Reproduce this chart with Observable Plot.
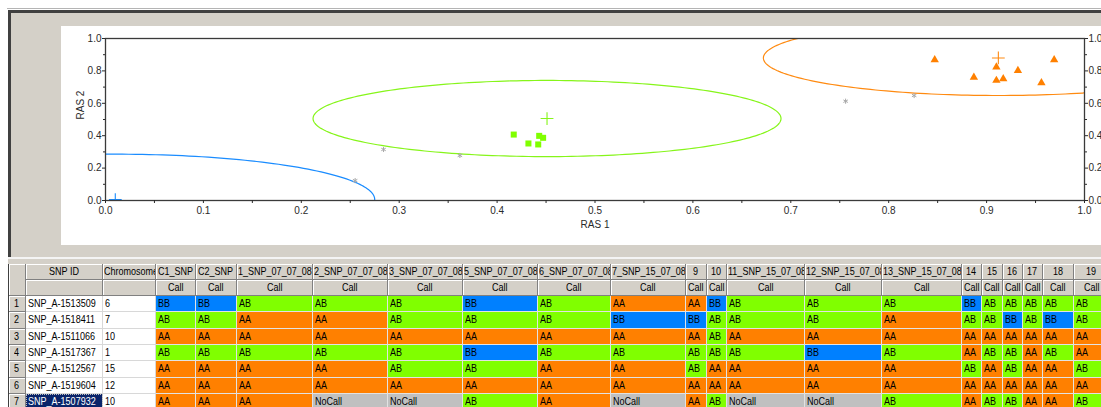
<!DOCTYPE html>
<html><head><meta charset="utf-8">
<script src="https://cdn.jsdelivr.net/npm/d3@7"></script>
<script src="https://cdn.jsdelivr.net/npm/@observablehq/plot@0.6"></script>
<style>
html,body{margin:0;padding:0;width:1101px;height:407px;overflow:hidden;background:#fff;
  font-family:"Liberation Sans",Arial,sans-serif;}
.abs{position:absolute;}
#grid{position:absolute;left:8px;top:264px;display:grid;border-left:1px solid #404040;}
.c{box-sizing:border-box;overflow:hidden;white-space:nowrap;font-size:11px;line-height:14px;padding:0 2px;
  border-right:1px solid #e2e2e2;border-bottom:1px solid #e2e2e2;color:#000;background:#fff;}
.h{background:#d4d0c8;text-align:center;border-right:1px solid #808080;border-bottom:1px solid #808080;
  box-shadow:inset 1px 1px 0 #fff;padding:0 1px;line-height:15px;}
.sel{background:#0a246a;color:#fff;outline:1px dotted #c0c0c0;outline-offset:-1px;}
.t{display:inline-block;transform:scaleX(0.82);transform-origin:left center;}
</style></head>
<body>
<div class="abs" style="left:7px;top:8px;width:1100px;height:1px;background:#b4b4b4"></div>
<div class="abs" style="left:8px;top:10px;width:1100px;height:247px;background:#d4d0c8;border-top:3px solid #404040;border-left:3px solid #404040;box-sizing:border-box"></div>
<div class="abs" style="left:8px;top:257px;width:1100px;height:2px;background:#f4f4f4"></div>
<div class="abs" style="left:8px;top:259px;width:1100px;height:5px;background:#d4d0c8"></div>
<div id="plotbox" class="abs" style="left:61px;top:26px;width:1060px;height:219px;background:#fff"></div>
<div id="grid"></div>
<script>
// ---------- scatter data ----------
const clusters = ["BB", "AB", "AA"];
const clusterColors = ["#1a8cff", "#86f51a", "#ff8a10"];
const centerX = [0.010, 0.451, 0.912];
const centerY = [0.006, 0.506, 0.880];
const radiusX = [0.265, 0.239, 0.240];
const radiusY = [0.280, 0.235, 0.232];
const abX = [0.417, 0.432, 0.443, 0.447, 0.442];
const abY = [0.407, 0.352, 0.399, 0.387, 0.346];
const aaX = [0.847, 0.887, 0.910, 0.910, 0.917, 0.932, 0.956, 0.969];
const aaY = [0.868, 0.761, 0.823, 0.741, 0.751, 0.802, 0.727, 0.868];
const noCallX = [0.255, 0.284, 0.362, 0.756, 0.826];
const noCallY = [0.123, 0.315, 0.278, 0.613, 0.648];
const majorTicks = [0, 0.1, 0.2, 0.3, 0.4, 0.5, 0.6, 0.7, 0.8, 0.9, 1.0];
const yLabelTicks = [0, 0.2, 0.4, 0.6, 0.8, 1.0];
const minorXTicks = [0.05, 0.15, 0.25, 0.35, 0.45, 0.55, 0.65, 0.75, 0.85, 0.95];
const minorYTicks = [0.1, 0.3, 0.5, 0.7, 0.9];

// ---------- table data ----------
const snpIds = ["SNP_A-1513509","SNP_A-1518411","SNP_A-1511066","SNP_A-1517367","SNP_A-1512567","SNP_A-1519604","SNP_A-1507932"];
const chromosomes = ["6","7","10","1","15","12","10"];
const sampleNames = ["C1_SNP","C2_SNP","1_SNP_07_07_08","2_SNP_07_07_08","3_SNP_07_07_08","5_SNP_07_07_08","6_SNP_07_07_08","7_SNP_15_07_08","9","10","11_SNP_15_07_08","12_SNP_15_07_08","13_SNP_15_07_08","14","15","16","17","18","19"];
const callsRow1 = ["BB","BB","AB","AB","AB","BB","AB","AA","AA","BB","AB","AB","AB","BB","AB","AB","AB","AB","AB"];
const callsRow2 = ["AB","AB","AA","AA","AB","AB","AB","BB","BB","AB","AB","AB","AA","AB","AB","BB","AB","BB","AB"];
const callsRow3 = ["AA","AA","AA","AA","AA","AA","AA","AA","AA","AB","AA","AA","AA","AA","AA","AA","AA","AA","AA"];
const callsRow4 = ["AB","AB","AB","AB","AB","BB","AB","AB","AB","AB","AB","BB","AB","AA","AB","AB","AA","AB","AA"];
const callsRow5 = ["AA","AA","AA","AA","AB","AB","AA","AA","AB","AA","AA","AA","AA","AB","AA","AB","AA","AA","AB"];
const callsRow6 = ["AA","AA","AA","AA","AA","AA","AA","AA","AA","AA","AA","AA","AA","AA","AA","AA","AA","AA","AA"];
const callsRow7 = ["AA","AA","AA","NoCall","NoCall","AB","AA","NoCall","AA","AB","NoCall","NoCall","AB","AA","AB","AB","AA","AA","AB"];
const calls = [callsRow1, callsRow2, callsRow3, callsRow4, callsRow5, callsRow6, callsRow7];
const callDomain = ["AA","AB","BB","NoCall"];
const callRange = ["#ff8000","#80ff00","#0080ff","#c0c0c0"];

// ---------- plot ----------
const font = '"Liberation Sans",Arial,sans-serif';
const fmt = d3.format(".1f");
const ellipseMarks = clusters.map((g, i) => {
  const pts = d3.range(0, 241).map(k => {
    const t = 2 * Math.PI * k / 240;
    return {x: centerX[i] + radiusX[i] * Math.cos(t), y: centerY[i] + radiusY[i] * Math.sin(t)};
  });
  return Plot.line(pts, {x: "x", y: "y", stroke: clusterColors[i], strokeWidth: 1.2, clip: true});
});
const centerMarks = clusters.map((g, i) =>
  Plot.dot([0], {x: () => centerX[i], y: () => centerY[i], symbol: "plus", r: 4.2, stroke: clusterColors[i], strokeWidth: 1.1, clip: true}));
const ab = abX.map((x, i) => ({x, y: abY[i]}));
const aa = aaX.map((x, i) => ({x, y: aaY[i]}));
const nc = noCallX.map((x, i) => ({x, y: noCallY[i]}));

const chart = Plot.plot({
  width: 1060, height: 219,
  marginLeft: 44, marginRight: 37, marginTop: 12, marginBottom: 45,
  x: {domain: [0, 1]}, y: {domain: [0, 1]},
  style: {fontFamily: font, fontSize: "10px", color: "#2a2a2a", background: "#fff", overflow: "visible"},
  marks: [
    ...ellipseMarks,
    Plot.dot(nc, {x: "x", y: "y", symbol: "asterisk", r: 2.4, stroke: "#a8a8a8", strokeWidth: 1}),
    Plot.dot(ab, {x: "x", y: "y", symbol: "square", r: 3.4, fill: "#80ff00", stroke: "none"}),
    Plot.dot(aa, {x: "x", y: "y", symbol: "triangle", r: 3.1, fill: "#ff8000", stroke: "none"}),
    ...centerMarks,
    Plot.frame({stroke: "#3a3a3a", strokeWidth: 1.3}),
    Plot.axisX({ticks: majorTicks, tickFormat: fmt, tickSize: 3, tickPadding: 3, label: null}),
    Plot.axisX({ticks: minorXTicks, tickFormat: () => "", tickSize: 3, label: null}),
    Plot.axisY({anchor: "left", ticks: yLabelTicks, tickFormat: fmt, tickSize: 3, tickPadding: 1, label: null}),
    Plot.axisY({anchor: "left", ticks: minorYTicks, tickFormat: () => "", tickSize: 2, label: null}),
    Plot.axisY({anchor: "right", ticks: yLabelTicks, tickFormat: fmt, tickSize: 3, tickPadding: 1, label: null}),
    Plot.axisY({anchor: "right", ticks: minorYTicks, tickFormat: () => "", tickSize: 2, label: null}),
    Plot.text(["RAS 2"], {text: d => d, frameAnchor: "left", dx: -25, rotate: -90, fontSize: 10, fill: "#2a2a2a"}),
    Plot.text(["RAS 1"], {text: d => d, frameAnchor: "bottom", dy: 27, fontSize: 10, fill: "#2a2a2a"})
  ]
});
document.getElementById("plotbox").appendChild(chart);

// ---------- table ----------
const callColor = Plot.scale({color: {type: "ordinal", domain: callDomain, range: callRange}});
const colWidths = [17, 77, 53, 40, 41, 76, 75, 75, 75, 73, 75, 21, 20, 78, 77, 80, 20, 21, 20, 20, 31, 36];
const squeeze = 0.82;
const grid = document.getElementById("grid");
grid.style.gridTemplateColumns = colWidths.map(w => w + "px").join(" ");
grid.style.gridTemplateRows = "16px 16px repeat(7, 16.33px)";
function cell(text, cls, style) {
  const d = document.createElement("div");
  d.className = "c " + (cls || "");
  if (style) Object.assign(d.style, style);
  grid.appendChild(d);
  if (text) {
    const s = document.createElement("span");
    s.className = "t";
    s.textContent = text;
    d.appendChild(s);
    const w = s.getBoundingClientRect().width / squeeze;
    s.style.marginRight = (-(w * (1 - squeeze))).toFixed(2) + "px";
  }
  return d;
}
cell("", "h", {gridRow: "span 2"});
cell("SNP ID", "h"); cell("Chromosome", "h");
sampleNames.forEach(n => cell(n, "h"));
cell("", "h"); cell("", "h");
sampleNames.forEach(() => cell("Call", "h"));
snpIds.forEach((id, r) => {
  cell(String(r + 1), "h");
  cell(id, r === snpIds.length - 1 ? "sel" : "", {borderColor: "#d8d8d8"});
  cell(chromosomes[r], "", {borderColor: "#d8d8d8"});
  calls[r].forEach(v => cell(v, "", {background: callColor.apply(v)}));
});
</script>
</body></html>
